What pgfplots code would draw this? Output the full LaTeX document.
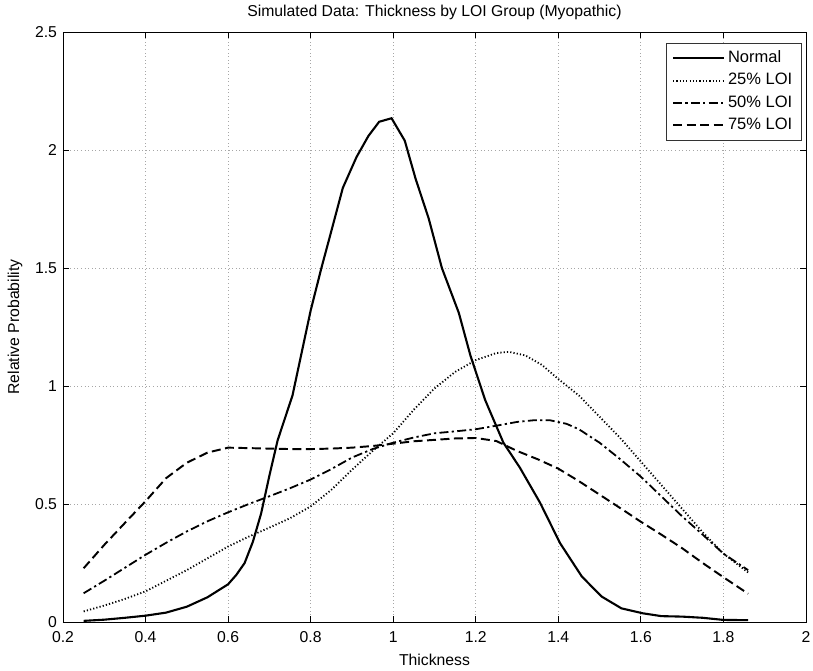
\documentclass[border=0pt]{standalone}
\usepackage{pgfplots}
\pgfplotsset{compat=1.18}
\usepackage{fontspec}
\setmainfont{Liberation Sans}
\begin{document}
\begin{tikzpicture}
\begin{axis}[
  at={(0,0)}, anchor=south west,
  scale only axis, width=495.3pt, height=393.3pt,
  xmin=0.2, xmax=2, ymin=0, ymax=2.5,
  xtick={0.2,0.4,...,2.01}, ytick={0,0.5,...,2.51},
  xticklabels={0.2,0.4,0.6,0.8,1,1.2,1.4,1.6,1.8,2},
  yticklabels={0,0.5,1,1.5,2,2.5},
  /pgf/number format/assume math mode=true,
  tick align=inside, major tick length=4pt,
  tick style={black, line width=0.5pt},
  axis line style={black, line width=0.6pt},
  grid=major,
  major grid style={gray!70, dotted, line width=0.6pt},
  ticklabel style={font=\fontsize{10.5}{12}\selectfont},
  xticklabel style={yshift=-3pt},
  yticklabel style={xshift=-0.5pt},
  title={Simulated Data: Thickness by LOI Group (Myopathic)},
  title style={at={(axis description cs:0.5,1.0339)}, anchor=center, yshift=-6pt, font=\fontsize{10.5}{12}\selectfont},
  xlabel={Thickness},
  xlabel style={at={(axis description cs:0.5,-0.0636)}, anchor=center, font=\fontsize{10.5}{12}\selectfont},
  ylabel={Relative Probability},
  ylabel style={at={(axis description cs:-0.0646,0.5)}, anchor=center, font=\fontsize{10.5}{12}\selectfont},
  legend style={at={(axis description cs:0.9942,0.9808)}, anchor=north east,
    draw=black!80, fill=white, line width=0.5pt, font=\fontsize{11}{13}\selectfont,
    inner xsep=4pt, inner ysep=2.5pt, row sep=0.4pt,
    nodes={inner sep=2pt, text height=8pt, text depth=2.5pt}},
  legend cell align=left,
  legend image code/.code={\draw[#1] (0pt,0pt) -- (34pt,0pt);},
]
\addplot[black, line width=1.4pt] coordinates {
(0.25,0.005) (0.3,0.01) (0.35,0.018) (0.4,0.027) (0.45,0.04) (0.5,0.065) (0.55,0.105) (0.6,0.16) (0.62,0.2) (0.64,0.25) (0.66,0.34) (0.68,0.46) (0.7,0.62) (0.72,0.77) (0.756,0.96) (0.8,1.32) (0.826,1.5) (0.846,1.63) (0.878,1.84) (0.911,1.97) (0.94,2.06) (0.966,2.12) (0.996,2.135) (1.028,2.04) (1.054,1.88) (1.086,1.71) (1.118,1.5) (1.159,1.31) (1.187,1.13) (1.223,0.94) (1.267,0.76) (1.307,0.654) (1.356,0.505) (1.404,0.335) (1.457,0.193) (1.505,0.108) (1.553,0.058) (1.605,0.037) (1.65,0.025) (1.7,0.023) (1.75,0.018) (1.8,0.009) (1.86,0.008)
};
\addlegendentry{Normal}
\addplot[black, line width=1.2pt, dash pattern=on 0.8pt off 1.4pt] coordinates {
(0.25,0.045) (0.3,0.07) (0.35,0.098) (0.4,0.13) (0.45,0.175) (0.5,0.22) (0.55,0.27) (0.6,0.32) (0.65,0.362) (0.7,0.40) (0.75,0.44) (0.8,0.49) (0.85,0.56) (0.9,0.645) (0.95,0.725) (1.0,0.8) (1.05,0.9) (1.1,0.99) (1.15,1.06) (1.2,1.11) (1.25,1.14) (1.28,1.145) (1.32,1.13) (1.36,1.09) (1.4,1.03) (1.45,0.96) (1.5,0.87) (1.55,0.78) (1.6,0.68) (1.65,0.58) (1.7,0.48) (1.75,0.38) (1.8,0.29) (1.86,0.21)
};
\addlegendentry{25\% LOI}
\addplot[black, line width=1.2pt, dash pattern=on 6pt off 2.2pt on 1.5pt off 2.2pt] coordinates {
(0.25,0.122) (0.3,0.175) (0.35,0.23) (0.4,0.285) (0.45,0.336) (0.5,0.384) (0.55,0.427) (0.6,0.465) (0.65,0.5) (0.7,0.533) (0.75,0.567) (0.8,0.604) (0.85,0.648) (0.9,0.697) (0.95,0.733) (1.0,0.76) (1.05,0.782) (1.1,0.80) (1.15,0.808) (1.2,0.817) (1.25,0.832) (1.3,0.848) (1.34,0.855) (1.38,0.855) (1.42,0.84) (1.45,0.817) (1.5,0.76) (1.55,0.69) (1.6,0.616) (1.65,0.532) (1.7,0.448) (1.75,0.37) (1.8,0.29) (1.86,0.22)
};
\addlegendentry{50\% LOI}
\addplot[black, line width=1.3pt, dash pattern=on 6pt off 3pt] coordinates {
(0.25,0.228) (0.3,0.327) (0.35,0.42) (0.4,0.512) (0.45,0.61) (0.5,0.675) (0.55,0.718) (0.6,0.739) (0.65,0.737) (0.7,0.735) (0.75,0.733) (0.8,0.733) (0.85,0.735) (0.9,0.739) (0.95,0.746) (1.0,0.756) (1.05,0.766) (1.1,0.772) (1.15,0.778) (1.2,0.78) (1.25,0.767) (1.3,0.725) (1.35,0.69) (1.4,0.65) (1.45,0.597) (1.5,0.54) (1.55,0.483) (1.6,0.425) (1.65,0.37) (1.7,0.313) (1.75,0.25) (1.8,0.19) (1.86,0.12)
};
\addlegendentry{75\% LOI}
\end{axis}
\pgfresetboundingbox
\path (-42pt,-32pt) rectangle (500pt,414.7pt);
\end{tikzpicture}
\end{document}
